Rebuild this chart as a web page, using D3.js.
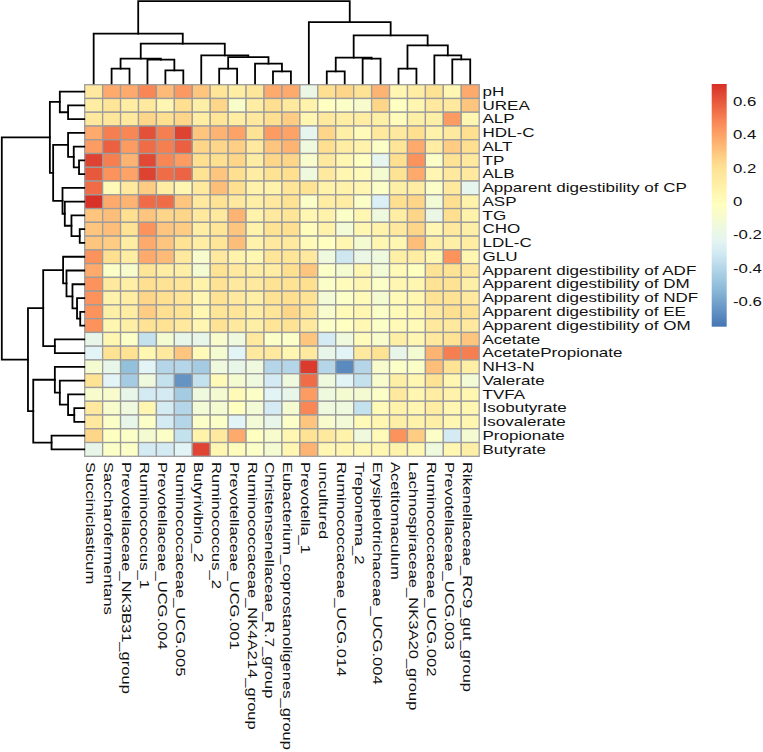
<!DOCTYPE html>
<html><head><meta charset="utf-8">
<script src="https://cdn.jsdelivr.net/npm/d3@7"></script>
<style>
body{margin:0;background:#fff}
svg{display:block}
text{font-family:"Liberation Sans",Arial,sans-serif;fill:#111}
</style>
</head><body>
<svg id="chart" width="763" height="752"></svg>
<script>
// ---------- DATA ----------
const columns = ["Succiniclasticum","Saccharofermentans","Prevotellaceae_NK3B31_group","Ruminococcus_1",
  "Prevotellaceae_UCG.004","Ruminococcaceae_UCG.005","Butyrivibrio_2","Ruminococcus_2","Prevotellaceae_UCG.001",
  "Ruminococcaceae_NK4A214_group","Christensenellaceae_R.7_group","Eubacterium_coprostanoligenes_group",
  "Prevotella_1","uncultured","Ruminococcaceae_UCG.014","Treponema_2","Erysipelotrichaceae_UCG.004",
  "Acetitomaculum","Lachnospiraceae_NK3A20_group","Ruminococcaceae_UCG.002","Prevotellaceae_UCG.003",
  "Rikenellaceae_RC9_gut_group"];

const rows = ["pH","UREA","ALP","HDL-C","ALT","TP","ALB","Apparent digestibility of CP","ASP","TG","CHO",
  "LDL-C","GLU","Apparent digestibility of ADF","Apparent digestibility of DM","Apparent digestibility of NDF",
  "Apparent digestibility of EE","Apparent digestibility of OM","Acetate","AcetatePropionate","NH3-N",
  "Valerate","TVFA","Isobutyrate","Isovalerate","Propionate","Butyrate"];

const values = [
  [0.15,0.38,0.38,0.48,0.33,0.43,0.30,0.18,0.12,0.17,0.38, 0.38,-0.18,0.22,0.25,0.20,0.35,0.05,0.12,0.20,0.05,0.38],
  [0.12,0.18,0.12,0.15,0.05,0.22,0.10,0.25,-0.07,0.12,0.22, 0.15,0.08,-0.03,-0.05,-0.08,0.25,-0.03,0.05,0.15,0.15,0.30],
  [0.15,0.17,0.15,0.25,0.22,0.25,0.12,0.18,0.12,0.15,0.22, 0.28,0.05,0.15,0.12,0.12,0.10,0.00,0.10,0.10,0.42,0.05],
  [0.38,0.50,0.48,0.62,0.50,0.66,0.30,0.35,0.40,0.20,0.42, 0.40,-0.22,0.25,0.10,0.02,0.15,0.15,0.22,0.08,0.15,0.22],
  [0.42,0.58,0.42,0.55,0.50,0.58,0.25,0.25,0.27,0.15,0.30, 0.35,-0.15,0.22,0.12,0.08,-0.05,0.18,0.38,0.12,0.28,0.22],
  [0.66,0.50,0.35,0.64,0.48,0.42,0.22,0.22,0.25,0.12,0.25, 0.25,-0.08,0.15,0.05,-0.02,-0.22,0.22,0.45,-0.05,0.20,0.15],
  [0.60,0.45,0.40,0.66,0.55,0.57,0.20,0.30,0.22,0.12,0.20, 0.22,-0.15,0.15,0.05,0.02,-0.10,0.20,0.38,0.05,0.15,0.15],
  [0.55,0.02,0.15,0.28,0.12,0.05,0.15,0.32,0.22,0.08,0.08, 0.18,0.20,0.08,0.08,0.05,-0.05,0.10,0.12,-0.05,0.15,-0.22],
  [0.70,0.38,0.35,0.55,0.55,0.30,0.15,0.20,0.15,0.10,0.15, 0.20,-0.05,0.12,0.12,-0.05,-0.28,0.22,0.25,-0.12,0.22,0.08],
  [0.30,0.32,0.22,0.30,0.25,0.25,0.15,0.15,0.35,0.08,0.15, 0.18,0.05,0.08,-0.05,0.05,-0.15,0.12,0.25,-0.18,0.22,0.08],
  [0.30,0.32,0.20,0.45,0.30,0.28,0.12,0.18,0.30,0.08,0.20, 0.22,0.00,0.08,-0.12,0.05,0.08,0.15,0.25,0.05,0.15,0.10],
  [0.30,0.28,0.12,0.38,0.30,0.20,0.12,0.18,0.32,0.08,0.15, 0.15,0.02,-0.02,0.05,-0.10,0.05,0.05,0.32,0.10,0.10,0.12],
  [0.45,0.22,0.12,0.38,0.33,0.15,-0.08,0.15,0.08,0.05,0.18, 0.18,0.15,-0.15,-0.32,-0.18,-0.15,0.10,0.12,0.05,0.45,0.05],
  [0.38,-0.05,-0.08,0.18,0.12,0.10,-0.10,0.20,0.15,0.12,0.12, 0.22,0.30,-0.05,-0.10,0.05,-0.12,0.02,-0.02,0.20,0.20,0.15],
  [0.45,0.15,0.10,0.22,0.20,0.18,0.08,0.20,0.15,0.15,0.20, 0.20,0.22,-0.05,0.00,0.05,-0.05,0.05,0.05,0.20,0.20,0.10],
  [0.45,0.08,0.12,0.25,0.22,0.18,0.05,0.20,0.15,0.10,0.20, 0.22,0.20,-0.12,-0.05,0.02,-0.10,0.02,0.05,0.20,0.20,0.15],
  [0.45,0.10,0.12,0.28,0.22,0.20,0.05,0.18,0.18,0.12,0.18, 0.25,0.18,-0.08,0.02,0.05,-0.05,0.02,0.05,0.15,0.22,0.20],
  [0.45,0.05,0.10,0.20,0.20,0.15,0.05,0.20,0.15,0.10,0.18, 0.20,0.15,-0.05,-0.03,0.03,-0.05,0.02,0.02,0.15,0.15,0.15],
  [-0.20,0.05,-0.05,-0.35,-0.10,-0.20,-0.20,-0.08,-0.15,0.15,-0.05, -0.05,0.30,-0.30,-0.15,0.00,-0.08,0.10,0.05,0.15,0.20,0.30],
  [-0.25,0.20,0.20,0.05,0.15,0.30,0.02,-0.10,-0.25,0.15,0.15, 0.05,0.15,-0.20,-0.25,0.15,0.20,-0.20,-0.10,0.35,0.50,0.50],
  [-0.10,-0.20,-0.50,-0.25,-0.40,-0.40,-0.45,-0.15,-0.20,-0.15,-0.40, -0.40,0.68,-0.40,-0.68,-0.40,-0.08,-0.05,-0.05,0.32,0.20,0.10],
  [0.20,-0.25,-0.45,-0.15,-0.35,-0.65,-0.35,0.02,-0.10,-0.15,-0.30, -0.15,0.55,-0.15,-0.25,-0.35,-0.08,0.10,0.05,0.20,0.05,-0.12],
  [-0.08,-0.08,-0.20,-0.30,-0.30,-0.45,-0.15,-0.10,0.02,-0.05,-0.25, -0.20,0.42,-0.15,-0.10,-0.10,-0.05,0.15,0.05,0.12,0.08,0.05],
  [0.15,-0.08,-0.15,0.05,-0.30,-0.40,-0.12,-0.10,-0.02,-0.12,-0.30, -0.10,0.48,-0.15,-0.15,-0.35,0.02,0.08,0.05,0.12,0.05,0.05],
  [0.15,-0.05,-0.20,-0.05,-0.30,-0.40,-0.05,-0.05,-0.25,-0.12,-0.20, -0.05,0.30,-0.08,-0.12,0.02,0.05,0.10,0.08,0.10,0.05,0.05],
  [0.25,-0.03,-0.05,-0.10,-0.05,-0.35,0.08,0.15,0.38,-0.02,-0.08, 0.05,0.20,0.15,0.08,-0.15,0.02,0.45,0.28,-0.05,-0.30,-0.10],
  [-0.20,-0.05,-0.05,-0.30,-0.30,-0.25,0.65,0.05,0.00,-0.05,-0.10, 0.05,0.35,0.05,0.05,0.03,0.05,0.08,0.03,-0.15,0.05,0.10]
];

// dendrograms: [height, left, right]; leaves are indices
const colTree = [82.3,
  [49.7, 0, [39.7, [24.7, [14.7, 1, 2], [23.7, 3, [13, 4, 5]]],
                   [28, 6, [26.3, [14.7, 7, 8], [19.7, 9, [12, 10, 11]]]]]],
  [61.3, 12, [48, [25.7, [12, 13, 14], [24.7, 15, 16]],
                  [38, [14.7, 17, 18], [28, 19, [24, 20, 21]]]]]];

const rowTree = [82.8,
  [34.5, [24.5, 0, [16.2, 1, 2]],
         [31.2, [16.2, 3, [10.5, 4, [5.2, 5, 6]]], [21.8, 7, [19.5, 8, [12.8, 9, [4.5, 10, 11]]]]]],
  [56.5, [41.2, [21.2, 12, [17.8, 13, [11.8, 14, [7.2, 15, [4, 16, 17]]]]], [29.5, 18, 19]],
         [51.2, [29.5, 20, [24.5, 21, [16.2, 22, [10, 23, 24]]]], [32.8, 25, 26]]]];

const legendTicks = [0.6, 0.4, 0.2, 0, -0.2, -0.4, -0.6];
const legendLabels = ["0.6", "0.4", "0.2", "0", "-0.2", "-0.4", "-0.6"];
const palette = ["#4575B4","#91BFDB","#E0F3F8","#FFFFBF","#FEE090","#FC8D59","#D73027"];
const valueRange = [-0.75, 0.706];

// ---------- DRAW ----------
const svg = d3.select("#chart");
svg.append("rect").attr("width", 763).attr("height", 752).attr("fill", "#fff");

const x = d3.scaleBand().domain(d3.range(columns.length)).range([84.7, 479.2]);
const y = d3.scaleBand().domain(d3.range(rows.length)).range([84.7, 456.3]);
const [vmin, vmax] = valueRange;
const color = d3.scaleLinear()
  .domain(palette.map((_, i) => vmin + (vmax - vmin) * i / (palette.length - 1)))
  .range(palette).clamp(true);

// cells
const cells = [];
values.forEach((r, i) => r.forEach((v, j) => cells.push({i, j, v})));
svg.append("g").selectAll("rect").data(cells).join("rect")
  .attr("x", d => x(d.j)).attr("y", d => y(d.i))
  .attr("width", x.bandwidth()).attr("height", y.bandwidth())
  .attr("fill", d => color(d.v))
  .attr("stroke", "#9c9c9c").attr("stroke-width", 1.3);

// dendrograms
function walk(node, band, paths, build) {
  if (typeof node === "number") return {p: band(node) + band.bandwidth() / 2, h: 0};
  const a = walk(node[1], band, paths, build);
  const b = walk(node[2], band, paths, build);
  paths.push(build(a, b, node[0]));
  return {p: (a.p + b.p) / 2, h: node[0]};
}
const colH = d3.scaleLinear().domain([0, colTree[0]]).range([83.3, 1.2]);
const colPaths = [];
walk(colTree, x, colPaths, (a, b, h) =>
  `M${a.p},${colH(a.h)}V${colH(h)}H${b.p}V${colH(b.h)}`);
svg.append("g").selectAll("path").data(colPaths).join("path")
  .attr("d", d => d).attr("fill", "none").attr("stroke", "#000")
  .attr("stroke-width", 1.8).attr("stroke-linecap", "square");

const rowH = d3.scaleLinear().domain([0, rowTree[0]]).range([84.2, 1.8]);
const rowPaths = [];
walk(rowTree, y, rowPaths, (a, b, h) =>
  `M${rowH(a.h)},${a.p}H${rowH(h)}V${b.p}H${rowH(b.h)}`);
svg.append("g").selectAll("path").data(rowPaths).join("path")
  .attr("d", d => d).attr("fill", "none").attr("stroke", "#000")
  .attr("stroke-width", 1.8).attr("stroke-linecap", "square");

// row labels
svg.append("g").selectAll("text").data(rows).join("text")
  .attr("transform", (d, i) => `translate(482.5,${y(i) + y.bandwidth() / 2}) scale(1.42,1)`)
  .attr("dy", 4.2)
  .style("font-size", "12px")
  .text(d => d);

// column labels
svg.append("g").selectAll("text").data(columns).join("text")
  .attr("transform", (d, j) => `translate(${x(j) + x.bandwidth() / 2},462) rotate(90) scale(1.38,1)`)
  .attr("dy", 7.5)
  .style("font-size", "12px")
  .text(d => d);

// legend
const ly = d3.scaleLinear().domain(valueRange).range([326.7, 84]);
const grad = svg.append("defs").append("linearGradient")
  .attr("id", "lg").attr("x1", 0).attr("y1", 1).attr("x2", 0).attr("y2", 0);
d3.range(0, 1.0001, 0.05).forEach(t => {
  grad.append("stop").attr("offset", t).attr("stop-color", color(vmin + t * (vmax - vmin)));
});
svg.append("rect").attr("x", 711.7).attr("y", ly(vmax))
  .attr("width", 15).attr("height", ly(vmin) - ly(vmax)).attr("fill", "url(#lg)");
svg.append("g").selectAll("text").data(legendTicks).join("text")
  .attr("transform", d => `translate(733,${ly(d)}) scale(1.4,1)`)
  .attr("dy", 4.3)
  .style("font-size", "12px")
  .text((d, i) => legendLabels[i]);
</script>
</body></html>
